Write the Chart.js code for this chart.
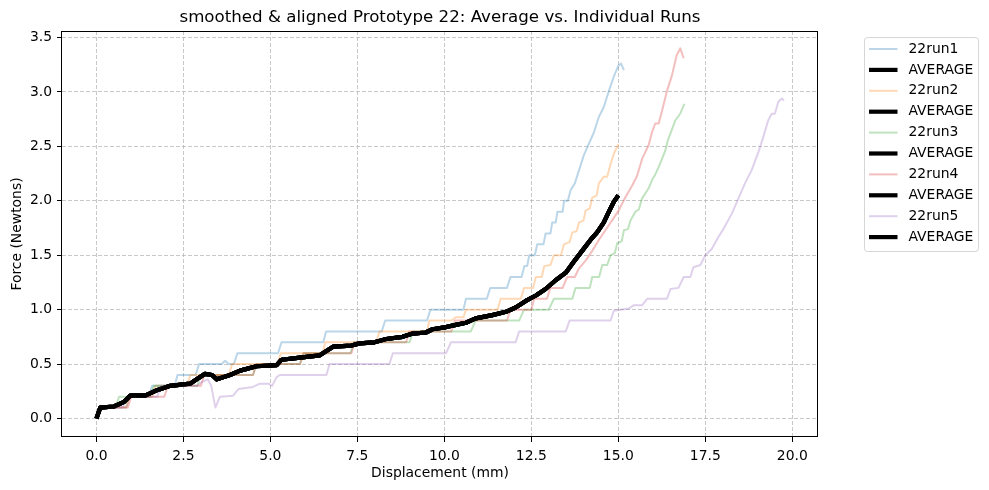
<!DOCTYPE html>
<html>
<head>
<meta charset="utf-8">
<script src="https://cdn.jsdelivr.net/npm/chart.js@4.4.1/dist/chart.umd.min.js"></script>
<style>
html,body{margin:0;padding:0;background:#fff;}
#wrap{width:989px;height:490px;position:relative;}
</style>
</head>
<body>
<div id="wrap"><canvas id="c" width="989" height="490"></canvas></div>
<script>
// ---- data (displacement mm, force N) ----
const runLabels = ["22run1", "22run2", "22run3", "22run4", "22run5"];
const averageLabel = "AVERAGE";
const xTickValues = [0, 2.5, 5, 7.5, 10, 12.5, 15, 17.5, 20];
const yTickValues = [0, 0.5, 1, 1.5, 2, 2.5, 3, 3.5];

const run1 = [[0,0],[0.1,0.1],[0.85,0.1],[0.95,0.2],[1.5,0.2],[1.6,0.3],[2.25,0.3],[2.33,0.4],[2.85,0.4],[2.95,0.5],[3.6,0.5],[3.7,0.53],[3.8,0.5],[3.95,0.5],[4.05,0.6],[5.22,0.6],[5.32,0.7],[6.52,0.7],[6.6,0.8],[8.2,0.8],[8.3,0.9],[9.5,0.9],[9.6,1.0],[10.55,1.0],[10.62,1.1],[11.22,1.1],[11.32,1.2],[11.8,1.2],[11.9,1.3],[12.22,1.3],[12.3,1.4],[12.38,1.4],[12.44,1.5],[12.6,1.5],[12.67,1.6],[12.85,1.6],[12.91,1.7],[13.05,1.7],[13.1,1.8],[13.2,1.8],[13.25,1.9],[13.4,1.9],[13.44,2.0],[13.55,2.0],[13.63,2.1],[13.75,2.16],[13.87,2.28],[14.01,2.42],[14.15,2.52],[14.3,2.63],[14.44,2.77],[14.58,2.86],[14.73,3.01],[14.87,3.14],[15.0,3.24],[15.08,3.26],[15.16,3.2]];

const run2 = [[0,0],[0.1,0.1],[0.85,0.1],[0.95,0.2],[1.6,0.2],[1.7,0.3],[2.6,0.3],[2.7,0.4],[3.8,0.4],[3.9,0.5],[5.2,0.5],[5.3,0.6],[6.5,0.6],[6.58,0.7],[8.04,0.7],[8.14,0.8],[9.5,0.8],[9.57,0.9],[10.2,0.9],[10.33,0.93],[10.55,0.93],[10.62,1.0],[11.53,1.0],[11.62,1.1],[12.2,1.1],[12.29,1.2],[12.55,1.2],[12.63,1.3],[12.8,1.3],[12.87,1.4],[13.05,1.41],[13.15,1.5],[13.35,1.5],[13.44,1.6],[13.6,1.62],[13.68,1.71],[13.8,1.72],[13.87,1.8],[14.0,1.82],[14.06,1.91],[14.18,1.93],[14.25,2.03],[14.38,2.05],[14.44,2.16],[14.58,2.22],[14.68,2.22],[14.78,2.34],[14.87,2.43],[15.0,2.52]];

const run3 = [[0,0],[0.1,0.1],[0.55,0.1],[0.65,0.2],[1.55,0.2],[1.65,0.3],[2.9,0.3],[3.0,0.4],[4.5,0.4],[4.6,0.5],[5.85,0.5],[5.95,0.6],[7.3,0.6],[7.4,0.7],[9.0,0.7],[9.1,0.8],[10.76,0.8],[10.9,0.9],[12.15,0.9],[12.29,1.0],[13.0,1.0],[13.15,1.1],[13.68,1.1],[13.77,1.2],[14.18,1.2],[14.25,1.3],[14.45,1.3],[14.54,1.41],[14.68,1.41],[14.78,1.5],[14.9,1.52],[14.97,1.61],[15.1,1.63],[15.16,1.73],[15.28,1.74],[15.35,1.82],[15.49,1.9],[15.59,1.92],[15.68,2.02],[15.78,2.07],[15.88,2.12],[15.97,2.19],[16.06,2.24],[16.16,2.31],[16.25,2.38],[16.35,2.46],[16.42,2.55],[16.5,2.62],[16.64,2.74],[16.78,2.8],[16.9,2.89]];

const run4 = [[0,0],[0.1,0.1],[0.9,0.1],[1.0,0.2],[1.95,0.2],[2.05,0.3],[3.0,0.3],[3.1,0.4],[4.5,0.4],[4.6,0.5],[5.85,0.5],[5.95,0.6],[7.33,0.6],[7.42,0.7],[8.9,0.7],[9.0,0.8],[10.2,0.8],[10.3,0.9],[11.8,0.9],[11.9,1.0],[12.5,1.0],[12.58,1.1],[12.95,1.1],[13.05,1.2],[13.4,1.2],[13.53,1.3],[13.75,1.3],[13.87,1.38],[14.06,1.45],[14.25,1.54],[14.44,1.64],[14.63,1.73],[14.82,1.82],[15.01,1.91],[15.2,2.03],[15.4,2.14],[15.54,2.23],[15.69,2.39],[15.87,2.51],[15.97,2.63],[16.06,2.71],[16.16,2.71],[16.26,2.83],[16.4,3.01],[16.54,3.15],[16.68,3.34],[16.78,3.4],[16.88,3.31]];

const run5 = [[0,0],[0.1,0.1],[0.75,0.1],[0.9,0.2],[1.75,0.2],[1.85,0.3],[2.9,0.3],[3.0,0.33],[3.2,0.36],[3.3,0.3],[3.42,0.1],[3.55,0.2],[3.93,0.21],[4.08,0.27],[4.5,0.29],[4.7,0.32],[4.95,0.32],[5.05,0.3],[5.18,0.38],[5.27,0.4],[6.61,0.4],[6.7,0.5],[8.42,0.5],[8.52,0.6],[10.05,0.6],[10.19,0.7],[12.05,0.7],[12.15,0.8],[13.49,0.8],[13.6,0.9],[14.78,0.9],[14.87,0.99],[15.3,1.01],[15.44,1.04],[15.68,1.04],[15.83,1.1],[16.4,1.1],[16.5,1.19],[16.73,1.2],[16.88,1.3],[17.07,1.3],[17.16,1.39],[17.36,1.41],[17.5,1.5],[17.69,1.56],[17.88,1.67],[18.02,1.74],[18.26,1.88],[18.45,2.02],[18.64,2.16],[18.83,2.28],[19.03,2.45],[19.17,2.59],[19.31,2.74],[19.41,2.8],[19.5,2.8],[19.6,2.91],[19.7,2.94],[19.76,2.92]];

const averageCurve = [[0,0],[0.11,0.1],[0.5,0.11],[0.78,0.15],[0.97,0.21],[1.4,0.21],[1.74,0.26],[2.12,0.3],[2.69,0.32],[2.88,0.36],[3.12,0.41],[3.32,0.4],[3.46,0.36],[3.84,0.4],[4.13,0.44],[4.6,0.48],[5.18,0.49],[5.32,0.54],[5.85,0.56],[6.42,0.58],[6.61,0.62],[6.8,0.66],[7.33,0.67],[7.56,0.69],[7.99,0.7],[8.33,0.73],[8.8,0.75],[9.09,0.78],[9.47,0.79],[9.66,0.82],[10.05,0.84],[10.33,0.86],[10.62,0.88],[10.9,0.92],[11.38,0.95],[11.77,0.98],[12.05,1.02],[12.34,1.08],[12.63,1.13],[12.91,1.19],[13.2,1.27],[13.49,1.34],[13.72,1.44],[13.96,1.54],[14.2,1.64],[14.39,1.71],[14.58,1.8],[14.73,1.9],[14.87,1.99],[15.0,2.05]];

const runs = [run1, run2, run3, run4, run5];
const runColors = ["rgba(31,119,180,0.3)", "rgba(255,127,14,0.3)", "rgba(44,160,44,0.3)", "rgba(214,39,40,0.3)", "rgba(148,103,189,0.3)"];

// ---- build datasets: each run followed by the average (as in the source plot) ----
const toXY = arr => arr.map(p => ({x: p[0], y: p[1]}));
const datasets = [];
runs.forEach((r, i) => {
  datasets.push({label: runLabels[i], data: toXY(r), borderColor: runColors[i], borderWidth: 2});
  datasets.push({label: averageLabel, data: toXY(averageCurve), borderColor: "#000000", borderWidth: 4.2});
});
datasets.forEach((d, i) => {
  d.pointRadius = 0; d.pointHoverRadius = 0; d.tension = 0; d.fill = false;
  d.borderJoinStyle = "round"; d.borderCapStyle = "butt";
  d.order = datasets.length - i; // later datasets drawn on top
});

const FONT = "'DejaVu Sans', 'Liberation Sans', sans-serif";
Chart.defaults.font.family = FONT;
Chart.defaults.color = "#000";

const frameAndLegend = {
  id: "frameAndLegend",
  afterDatasetsDraw(chart) {
    const {ctx, chartArea: a} = chart;
    ctx.save();
    ctx.strokeStyle = "#000";
    ctx.lineWidth = 1;
    const l = Math.round(a.left) - 0.5, t = Math.round(a.top) + 0.5;
    const r = Math.round(a.right) - 0.5, b = Math.round(a.bottom) - 0.5;
    ctx.strokeRect(l, t, r - l, b - t);
    ctx.restore();
  },
  afterDraw(chart) {
    const {ctx, chartArea: a} = chart;
    const ds = chart.data.datasets;
    const bx = Math.round(a.right) + 46.5, by = 37.5, bw = 114, bh = 214, rad = 3;
    ctx.save();
    ctx.beginPath();
    ctx.moveTo(bx + rad, by);
    ctx.lineTo(bx + bw - rad, by); ctx.arcTo(bx + bw, by, bx + bw, by + rad, rad);
    ctx.lineTo(bx + bw, by + bh - rad); ctx.arcTo(bx + bw, by + bh, bx + bw - rad, by + bh, rad);
    ctx.lineTo(bx + rad, by + bh); ctx.arcTo(bx, by + bh, bx, by + bh - rad, rad);
    ctx.lineTo(bx, by + rad); ctx.arcTo(bx, by, bx + rad, by, rad);
    ctx.closePath();
    ctx.fillStyle = "rgba(255,255,255,0.8)";
    ctx.fill();
    ctx.strokeStyle = "rgba(204,204,204,0.8)";
    ctx.lineWidth = 1;
    ctx.stroke();
    ctx.font = "13.9px " + FONT;
    ctx.textBaseline = "middle";
    ctx.textAlign = "left";
    ds.forEach((d, i) => {
      const cy = 49 + i * 20.9;
      ctx.beginPath();
      ctx.strokeStyle = d.borderColor;
      ctx.lineWidth = d.borderWidth;
      ctx.moveTo(bx + 4.5, cy);
      ctx.lineTo(bx + 33, cy);
      ctx.stroke();
      ctx.fillStyle = "#000";
      ctx.fillText(d.label, bx + 44, cy);
    });
    ctx.restore();
  }
};

const gridCommon = {
  color: "rgba(176,176,176,0.7)",
  lineWidth: 1,
  drawTicks: true,
  tickLength: 5,
  tickColor: "#000",
  tickWidth: 1
};

new Chart(document.getElementById("c"), {
  type: "line",
  data: {datasets},
  options: {
    responsive: false,
    animation: false,
    devicePixelRatio: 1,
    layout: {padding: {left: 0, right: 171, top: 0, bottom: 0}},
    plugins: {
      legend: {display: false},
      tooltip: {enabled: false},
      title: {
        display: true,
        fullSize: false,
        text: "smoothed & aligned Prototype 22: Average vs. Individual Runs",
        color: "#000",
        font: {size: 16.67, weight: "normal", family: FONT},
        padding: {top: 8, bottom: 3}
      }
    },
    scales: {
      x: {
        type: "linear",
        min: -0.99, max: 20.74,
        afterBuildTicks: s => { s.ticks = xTickValues.map(v => ({value: v})); },
        afterFit: s => { s.height = 53; },
        ticks: {font: {size: 13.9}, color: "#000", padding: 6, maxRotation: 0, autoSkip: false,
                callback: v => Number(v).toFixed(1)},
        grid: gridCommon,
        border: {display: false, dash: [4, 2]},
        title: {display: true, text: "Displacement (mm)", color: "#000",
                font: {size: 13.9}, padding: {top: 0, bottom: 8}}
      },
      y: {
        type: "linear",
        min: -0.17, max: 3.56,
        afterBuildTicks: s => { s.ticks = yTickValues.map(v => ({value: v})); },
        afterFit: s => { s.width = 62; },
        ticks: {font: {size: 13.9}, color: "#000", padding: 5, autoSkip: false,
                callback: v => Number(v).toFixed(1)},
        grid: gridCommon,
        border: {display: false, dash: [4, 2]},
        title: {display: true, text: "Force (Newtons)", color: "#000",
                font: {size: 13.9}, padding: {top: 9, bottom: 0}}
      }
    }
  },
  plugins: [frameAndLegend]
});
</script>
</body>
</html>
